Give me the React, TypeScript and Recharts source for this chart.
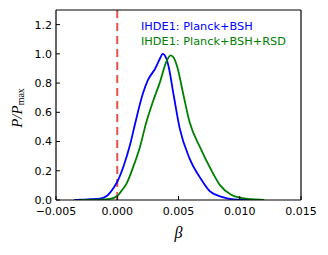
import React from 'react'
import { LineChart, Line, XAxis, YAxis, ReferenceLine } from 'recharts'

// beta grid + normalised posterior
const blueBeta = [-0.0035, -0.003, -0.0022, -0.0014, -0.00086, -0.00032, 0, 0.0005, 0.00104, 0.00145, 0.0021, 0.0025, 0.0031, 0.0035, 0.0037, 0.004, 0.0042, 0.0046, 0.0051, 0.0059, 0.0068, 0.0076, 0.0086, 0.0093, 0.01, 0.011]
const blueP = [0, 0.002, 0.005, 0.01, 0.027, 0.08, 0.125, 0.228, 0.376, 0.52, 0.73, 0.82, 0.9, 0.97, 1.0, 0.97, 0.91, 0.72, 0.49, 0.285, 0.148, 0.057, 0.02, 0.006, 0.002, 0]

const greenBeta = [-0.003, -0.0015, -0.0006, 0, 0.00036, 0.00077, 0.00131, 0.00186, 0.0024, 0.0029, 0.0035, 0.004, 0.00436, 0.0046, 0.0049, 0.0054, 0.0059, 0.0068, 0.0076, 0.0084, 0.0093, 0.0101, 0.011, 0.012]
const greenP = [0, 0.002, 0.007, 0.027, 0.064, 0.114, 0.228, 0.365, 0.54, 0.67, 0.81, 0.945, 0.99, 0.975, 0.91, 0.72, 0.535, 0.354, 0.217, 0.1, 0.036, 0.014, 0.005, 0]

const xTicks = [-0.005, 0, 0.005, 0.01, 0.015]
const yTicks = [0, 0.2, 0.4, 0.6, 0.8, 1.0, 1.2]

const seriesNames = ['IHDE1: Planck+BSH', 'IHDE1: Planck+BSH+RSD']
const seriesColors = ['#0000ff', '#008000']

const blueData = blueBeta.map((b, i) => ({ beta: b, p: blueP[i] }))
const greenData = greenBeta.map((b, i) => ({ beta: b, p: greenP[i] }))

const fmtX = (v: number) => (v < 0 ? '\u2212' : '') + Math.abs(v).toFixed(3)
const fmtY = (v: number) => v.toFixed(1)

const tickStyle = { fontSize: 11, fill: '#000', fontFamily: 'DejaVu Sans' }
const axisStyle = { stroke: '#000', strokeWidth: 1.2 }

const YLabel = (props: any) => {
  const { viewBox } = props
  const cx = viewBox.x + 17
  const cy = viewBox.y + viewBox.height / 2 + 3
  return (
    <text
      x={cx}
      y={cy}
      transform={`rotate(-90, ${cx}, ${cy})`}
      textAnchor="middle"
      dominantBaseline="central"
      fontFamily="Liberation Serif"
      fontStyle="italic"
      fontSize={15}
      fill="#000"
    >
      P/P
      <tspan fontSize={10} fontStyle="normal" dy={3}>max</tspan>
    </text>
  )
}

export default function App() {
  return (
    <div style={{ position: 'absolute', left: 0, top: 0, width: 328, height: 255, background: '#fff' }}>
      <LineChart width={328} height={255} margin={{ top: 9, right: 26, bottom: 0, left: 0 }}>
        <XAxis
          dataKey="beta"
          type="number"
          domain={[-0.005, 0.015]}
          ticks={xTicks}
          tickFormatter={fmtX}
          allowDataOverflow
          height={55}
          tickSize={-4}
          tickMargin={11}
          tick={tickStyle}
          axisLine={axisStyle}
          tickLine={{ stroke: '#000' }}
          label={{ value: 'β', position: 'insideBottom', offset: 17, fontSize: 16, fontStyle: 'italic', fontFamily: 'Liberation Serif', fill: '#000' }}
        />
        <XAxis
          xAxisId="top"
          orientation="top"
          type="number"
          domain={[-0.005, 0.015]}
          ticks={xTicks}
          allowDataOverflow
          height={1}
          tickSize={-4}
          tick={false}
          axisLine={axisStyle}
          tickLine={{ stroke: '#000' }}
        />
        <YAxis
          type="number"
          domain={[0, 1.3]}
          ticks={yTicks}
          tickFormatter={fmtY}
          allowDataOverflow
          width={56}
          tickSize={-4}
          tickMargin={8}
          tick={tickStyle}
          axisLine={axisStyle}
          tickLine={{ stroke: '#000' }}
          label={{ content: YLabel }}
        />
        <YAxis
          yAxisId="right"
          orientation="right"
          type="number"
          domain={[0, 1.3]}
          ticks={yTicks}
          allowDataOverflow
          width={1}
          tickSize={-4}
          tick={false}
          axisLine={axisStyle}
          tickLine={{ stroke: '#000' }}
        />
        <ReferenceLine x={0} stroke="#e8504a" strokeWidth={2} strokeDasharray="8 5" />
        <Line data={blueData} dataKey="p" name={seriesNames[0]} type="monotone" stroke={seriesColors[0]} strokeWidth={1.8} dot={false} activeDot={false} isAnimationActive={false} />
        <Line data={greenData} dataKey="p" name={seriesNames[1]} type="monotone" stroke={seriesColors[1]} strokeWidth={1.8} dot={false} activeDot={false} isAnimationActive={false} />
      </LineChart>
      <div style={{ position: 'absolute', top: 19, left: 141, fontFamily: 'DejaVu Sans', fontSize: 11.3, lineHeight: '15px' }}>
        {seriesNames.map((n, i) => (
          <div key={n} style={{ color: seriesColors[i], whiteSpace: 'nowrap' }}>{n}</div>
        ))}
      </div>
    </div>
  )
}
